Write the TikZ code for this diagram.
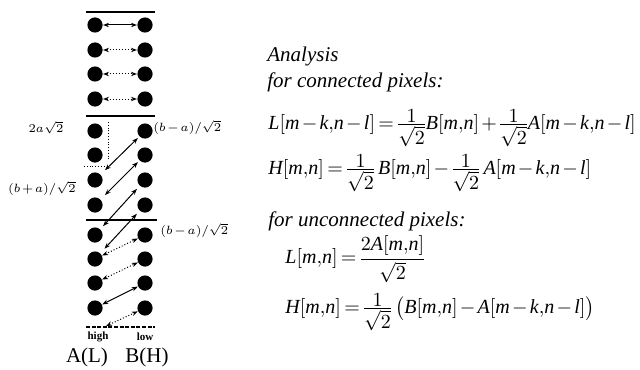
\documentclass[tikz,border=0pt]{standalone}
\usepackage{amsmath}
\usepackage{fontspec}
\setmainfont{Liberation Serif}
\usepackage{tikz}
\usetikzlibrary{arrows.meta}
\newcommand{\mv}[1]{\text{\itshape #1}}
\newcommand{\cma}{\mathord{,}}
\newcommand{\rtwo}{{\textstyle\frac{\textstyle 1}{\textstyle\sqrt{2}}}}
\medmuskip=2mu plus 1mu minus 1mu
\thickmuskip=3mu plus 1mu
\nulldelimiterspace=0.5pt
\tikzset{
  pix/.style={circle,fill=black,inner sep=0pt,minimum size=7.6pt},
  link/.style={{Stealth[length=3pt,width=2.2pt]}-{Stealth[length=3pt,width=2.2pt]},line width=0.5pt},
  dlink/.style={link,densely dotted},
  sep/.style={line width=0.8pt},
  eqn/.style={anchor=west,inner sep=0pt,font=\fontsize{10}{13}\selectfont},
  head/.style={anchor=west,inner sep=0pt,font=\fontsize{10.5}{13}\selectfont\itshape},
  dist/.style={inner sep=0pt,font=\fontsize{6.5}{8}\selectfont},
}
\begin{document}
\begin{tikzpicture}[x=0.5pt,y=-0.5pt]
  \useasboundingbox (0,0) rectangle (640,369);
  % pixel columns
  \foreach \y [count=\i] in {25,50,74,99,131,155,180,205,235,259,283,308} {
    \node[pix] (a\i) at (95,\y) {};
    \node[pix] (b\i) at (145,\y) {};
  }
  \draw[sep] (86,12) -- (155,12);
  \draw[sep] (86,116) -- (155,116);
  \draw[sep] (86,220) -- (157,220);
  \draw[line width=0.6pt,dash pattern=on 2pt off 0.8pt] (86,327) -- (155,327);
  % horizontal pairs
  \draw[link] (a1) -- (b1);
  \foreach \i in {2,...,4}
    \draw[dlink] (a\i) -- (b\i);
  % diagonal pairs
  \draw[densely dotted] (108,122) -- (108,160);
  \draw[densely dotted] (84,166) -- (104,166);
  \draw[link,shorten <=3pt,shorten >=1pt] (a7) -- (b5);
  \draw[link,shorten <=3pt,shorten >=1pt] (a8) -- (b6);
  \draw[link,shorten <=2pt,shorten >=2pt] (a9) -- (b7);
  \draw[link,shorten <=3pt,shorten >=2pt] (a10) -- (b8);
  \draw[dlink] (a10) -- (b9);
  \draw[dlink] (a11) -- (b10);
  \draw[link] (a12) -- (b11);
  \coordinate (lowend) at (106,326);
  \draw[dlink] (lowend) -- (b12);
  % distance labels
  \node[dist] (lab2a) at (46,128) {$2a\sqrt{2}$};
  \node[dist,anchor=west] (labba) at (153,127) {$(b-a)/\sqrt{2}$};
  \node[dist,anchor=east] (labab) at (76,188) {$(b+a)/\sqrt{2}$};
  \node[dist,anchor=west] (labba2) at (160,230) {$(b-a)/\sqrt{2}$};
  \node[inner sep=0pt,font=\fontsize{5.5}{6}\selectfont\bfseries] (high) at (98,337) {high};
  \node[inner sep=0pt,font=\fontsize{5.5}{6}\selectfont\bfseries] (low) at (145,337) {low};
  \node[inner sep=0pt,font=\fontsize{10.5}{12}\selectfont] (colA) at (87,357) {A(L)};
  \node[inner sep=0pt,font=\fontsize{10.5}{12}\selectfont] (colB) at (147,357) {B(H)};
  % analysis
  \node[head] (ana) at (267,56) {Analysis};
  \node[head] (conn) at (267,82) {for connected pixels:};
  \node[eqn] (eqL) at (268,128) {$\mv{L}[\mv{m}-\mv{k}\cma\mv{n}-\mv{l}]=\rtwo\mv{B}[\mv{m}\cma\mv{n}]+\rtwo\mv{A}[\mv{m}-\mv{k}\cma\mv{n}-\mv{l}]$};
  \node[eqn] (eqH) at (268,173) {$\mv{H}[\mv{m}\cma\mv{n}]=\rtwo\,\mv{B}[\mv{m}\cma\mv{n}]-\rtwo\,\mv{A}[\mv{m}-\mv{k}\cma\mv{n}-\mv{l}]$};
  \node[head] (unconn) at (268,221) {for unconnected pixels:};
  \node[eqn] (eqL2) at (285,259) {$\mv{L}[\mv{m}\cma\mv{n}]=\dfrac{2\mv{A}[\mv{m}\cma\mv{n}]}{\sqrt{2}}$};
  \node[eqn] (eqH2) at (285,312) {$\mv{H}[\mv{m}\cma\mv{n}]=\rtwo\,\bigl(\mv{B}[\mv{m}\cma\mv{n}]-\mv{A}[\mv{m}-\mv{k}\cma\mv{n}-\mv{l}]\bigr)$};
\end{tikzpicture}
\end{document}
